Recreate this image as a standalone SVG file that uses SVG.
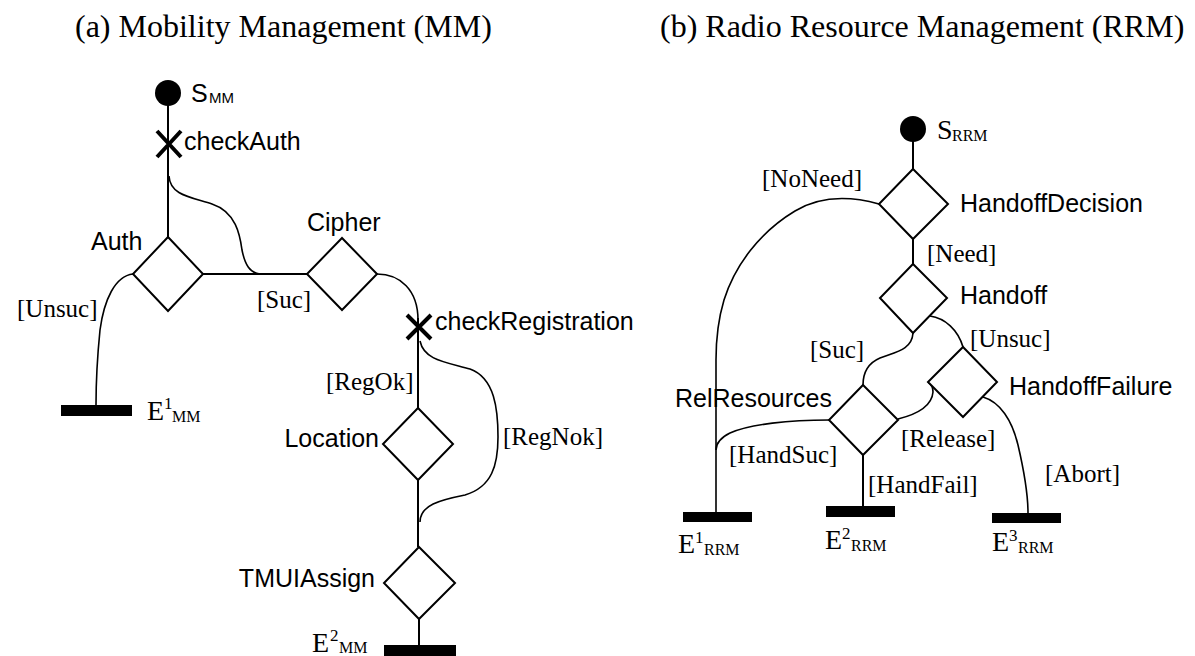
<svg xmlns="http://www.w3.org/2000/svg" width="1195" height="656" viewBox="0 0 1195 656">
<style>
.bg{fill:#fff}
.dia{fill:#fff;stroke:#000;stroke-width:2}
.ln{fill:none;stroke:#000;stroke-width:2}
.cv{fill:none;stroke:#000;stroke-width:1.6}
.x{stroke:#000;stroke-width:4}
.bar{fill:#000}
.dot{fill:#000}
.sans{font-family:"Liberation Sans",Arial,sans-serif;font-size:25px;fill:#000}
.ser{font-family:"Liberation Serif","Times New Roman",serif;font-size:25px;fill:#000}
.ttl{font-family:"Liberation Serif","Times New Roman",serif;font-size:32px;fill:#000}
.E{font-family:"Liberation Serif","Times New Roman",serif;font-size:28px;fill:#000}
.sub{font-size:16px}
.sup{font-size:17px}
</style>
<rect class="bg" x="0" y="0" width="1195" height="656"/>
<g id="titles">
<text class="ttl" x="75" y="37">(a) Mobility Management (MM)</text>
<text class="ttl" x="660" y="37">(b) Radio Resource Management (RRM)</text>
</g>
<g id="connectors">
<!-- MM -->
<path class="ln" d="M168,93 L168,237"/>
<path class="cv" d="M169,176 C170,195 190,197 212,204 C236,212 240,235 242,250 C245,265 250,273 260,274"/>
<path class="ln" d="M203,274 L307,274"/>
<path class="cv" d="M133,274 C115,276 104,300 100,330 C97,360 96,390 96,405"/>
<path class="cv" d="M377,274 C400,274 418,290 418,320"/>
<path class="ln" d="M418,318 L418,408"/>
<path class="cv" d="M420,341 C424,360 445,362 470,369 C495,378 498,410 498,437 C498,465 492,487 465,495 C440,500 420,505 420,522"/>
<path class="ln" d="M418,480 L418,547"/>
<path class="ln" d="M419,619 L419,645"/>
<!-- RRM -->
<path class="ln" d="M913,129 L913,169"/>
<path class="cv" d="M879,204 C850,196 820,196 795,211 C760,232 735,265 724,300 C718,320 716,340 716,360 L716,512"/>
<path class="ln" d="M913,239 L913,264"/>
<path class="cv" d="M913,333 C912,350 895,352 880,358 C866,364 863,375 863,385"/>
<path class="cv" d="M930,316 C945,318 958,330 963,347"/>
<path class="cv" d="M898,419 C918,414 932,405 933,392 C933,387 931,384 928,382"/>
<path class="cv" d="M829,420 C790,420 750,424 730,433 C720,438 716,444 716,450"/>
<path class="ln" d="M863,455 L863,507"/>
<path class="cv" d="M983,397 C1000,402 1012,420 1018,445 C1025,475 1028,495 1028,513"/>
</g>
<g id="S_MM">
<circle class="dot" cx="168" cy="93" r="13"/>
<text class="sans" x="191" y="102">S<tspan x="209" y="103" font-size="15">MM</tspan></text>
</g>
<g id="checkAuth">
<path class="x" d="M157,131 L181,157 M181,131 L157,157"/>
<text class="sans" x="184" y="150">checkAuth</text>
</g>
<g id="Auth">
<polygon class="dia" points="168,237 203,274 168,311 133,274"/>
<text class="sans" x="91" y="250">Auth</text>
</g>
<g id="Cipher">
<polygon class="dia" points="342,238 377,274 342,310 307,274"/>
<text class="sans" x="307" y="231">Cipher</text>
</g>
<g id="checkRegistration">
<path class="x" d="M407,315 L431,339 M431,315 L407,339"/>
<text class="sans" x="435" y="330">checkRegistration</text>
</g>
<g id="Location">
<polygon class="dia" points="418,408 453,444 418,480 383,444"/>
<text class="sans" x="379" y="447" text-anchor="end">Location</text>
</g>
<g id="TMUIAssign">
<polygon class="dia" points="419,547 455,583 419,619 384,583"/>
<text class="sans" x="375" y="587" text-anchor="end">TMUIAssign</text>
</g>
<g id="E1_MM">
<rect class="bar" x="61" y="405" width="71" height="11"/>
<text class="E" x="147" y="420">E<tspan class="sup" x="164" y="409">1</tspan><tspan class="sub" x="172" y="422">MM</tspan></text>
</g>
<g id="E2_MM">
<rect class="bar" x="384" y="645" width="72" height="11"/>
<text class="E" x="312" y="652">E<tspan class="sup" x="330" y="641">2</tspan><tspan class="sub" x="339" y="653">MM</tspan></text>
</g>
<g id="mm-labels">
<text class="ser" x="17" y="317">[Unsuc]</text>
<text class="ser" x="257" y="308">[Suc]</text>
<text class="ser" x="326" y="390">[RegOk]</text>
<text class="ser" x="503" y="445">[RegNok]</text>
</g>
<g id="S_RRM">
<circle class="dot" cx="913" cy="129" r="13"/>
<text class="E" x="937" y="139">S<tspan class="sub" x="952" y="141">RRM</tspan></text>
</g>
<g id="HandoffDecision">
<polygon class="dia" points="913,169 948,204 913,239 879,204"/>
<text class="sans" x="960" y="212">HandoffDecision</text>
</g>
<g id="Handoff">
<polygon class="dia" points="913,264 947,298 913,333 880,298"/>
<text class="sans" x="960" y="304">Handoff</text>
</g>
<g id="HandoffFailure">
<polygon class="dia" points="963,347 997,382 963,417 928,382"/>
<text class="sans" x="1009" y="395">HandoffFailure</text>
</g>
<g id="RelResources">
<polygon class="dia" points="863,385 898,420 863,455 829,420"/>
<text class="sans" x="675" y="407">RelResources</text>
</g>
<g id="E1_RRM">
<rect class="bar" x="683" y="512" width="69" height="10"/>
<text class="E" x="678" y="553">E<tspan class="sup" x="695" y="543">1</tspan><tspan class="sub" x="704" y="555">RRM</tspan></text>
</g>
<g id="E2_RRM">
<rect class="bar" x="826" y="506" width="69" height="11"/>
<text class="E" x="825" y="549">E<tspan class="sup" x="842" y="539">2</tspan><tspan class="sub" x="851" y="551">RRM</tspan></text>
</g>
<g id="E3_RRM">
<rect class="bar" x="992" y="513" width="69" height="10"/>
<text class="E" x="992" y="551">E<tspan class="sup" x="1009" y="541">3</tspan><tspan class="sub" x="1018" y="553">RRM</tspan></text>
</g>
<g id="rrm-labels">
<text class="ser" x="762" y="187">[NoNeed]</text>
<text class="ser" x="927" y="262">[Need]</text>
<text class="ser" x="810" y="358">[Suc]</text>
<text class="ser" x="970" y="347">[Unsuc]</text>
<text class="ser" x="729" y="463">[HandSuc]</text>
<text class="ser" x="901" y="447">[Release]</text>
<text class="ser" x="868" y="493">[HandFail]</text>
<text class="ser" x="1045" y="482">[Abort]</text>
</g>
</svg>
